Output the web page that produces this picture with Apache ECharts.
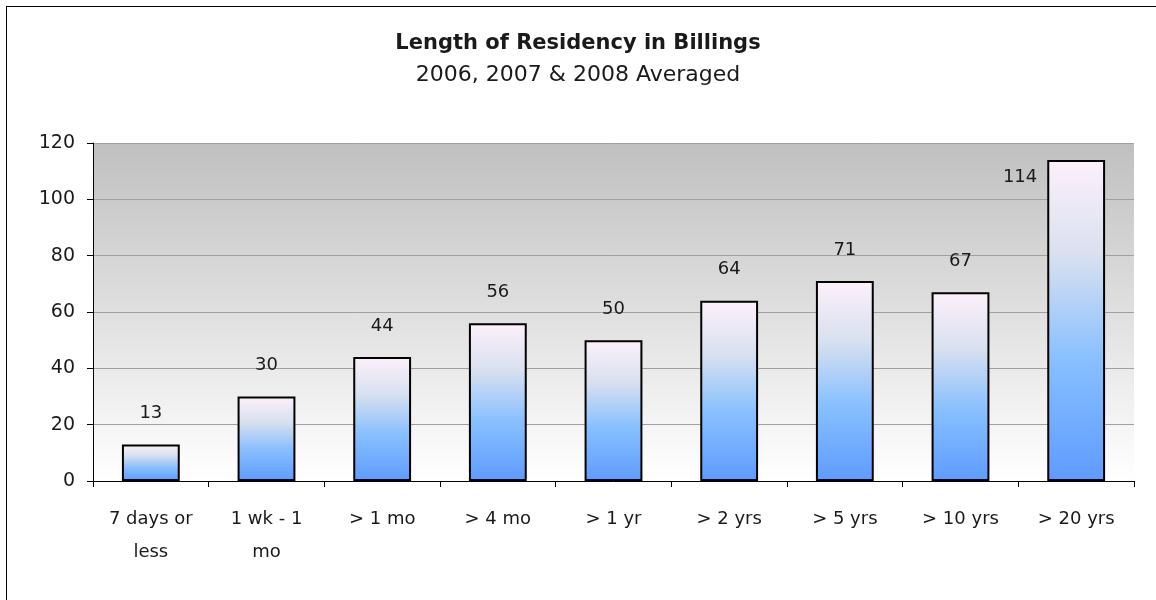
<!DOCTYPE html>
<html>
<head>
<meta charset="utf-8">
<script src="https://cdn.jsdelivr.net/npm/echarts@6/dist/echarts.min.js"></script>
<style>
html,body{margin:0;padding:0;background:#fff;}
#frame{position:absolute;left:6px;top:6px;width:1160px;height:610px;border-left:1px solid #000;border-top:1px solid #000;}
#chart{position:absolute;left:0;top:0;width:1156px;height:600px;}
</style>
</head>
<body>
<div id="frame"></div>
<div id="chart"></div>
<script>
const titleText = "Length of Residency in Billings";
const subtitleText = "2006, 2007 & 2008 Averaged";
const categories = ["7 days or\nless", "1 wk - 1\nmo", "> 1 mo", "> 4 mo", "> 1 yr", "> 2 yrs", "> 5 yrs", "> 10 yrs", "> 20 yrs"];
const values = [13, 30, 44, 56, 50, 64, 71, 67, 114];
const yTicks = [0, 20, 40, 60, 80, 100, 120];

const FONT = "DejaVu Sans";
const chart = echarts.init(document.getElementById('chart'));
const barColor = {
  type: 'linear', x: 0, y: 0, x2: 0, y2: 1,
  colorStops: [
    {offset: 0, color: '#fdf0fa'},
    {offset: 0.3, color: '#d8e0f0'},
    {offset: 0.62, color: '#88c0ff'},
    {offset: 1, color: '#5e9bff'}
  ]
};
const seriesData = values.map((v, i) => {
  const d = {value: v};
  if (i === values.length - 1) {
    d.label = {position: [-10, 17], align: 'right', verticalAlign: 'middle'};
  }
  return d;
});
chart.setOption({
  animation: false,
  backgroundColor: 'transparent',
  title: [{
    text: titleText,
    left: 'center', top: 28,
    textStyle: {fontFamily: FONT, fontSize: 21, fontWeight: 'bold', color: '#1a1a1a'}
  }, {
    text: subtitleText,
    left: 'center', top: 59,
    textStyle: {fontFamily: FONT, fontSize: 22, fontWeight: 'normal', color: '#1a1a1a'}
  }],
  grid: {
    left: 93, right: 22, top: 143, bottom: 119,
    show: true, borderWidth: 0,
    backgroundColor: {
      type: 'linear', x: 0, y: 0, x2: 0, y2: 1,
      colorStops: [{offset: 0, color: '#c0c0c0'}, {offset: 1, color: '#ffffff'}]
    }
  },
  xAxis: {
    type: 'category',
    data: categories,
    axisLine: {lineStyle: {color: '#000', width: 1}},
    axisTick: {show: true, length: 6, lineStyle: {color: '#000'}},
    axisLabel: {fontFamily: FONT, fontSize: 18, color: '#1a1a1a', margin: 22, lineHeight: 33, interval: 0}
  },
  yAxis: {
    type: 'value',
    min: 0, max: 120, interval: 20,
    axisLine: {show: true, lineStyle: {color: '#000', width: 1}},
    axisTick: {show: true, length: 6, lineStyle: {color: '#000'}},
    axisLabel: {fontFamily: FONT, fontSize: 19, color: '#1a1a1a', margin: 18,
      formatter: v => yTicks.includes(v) ? String(v) : ''},
    splitLine: {show: true, lineStyle: {color: '#a0a0a0', width: 1}}
  },
  series: [{
    type: 'bar',
    data: seriesData,
    barCategoryGap: '50%',
    itemStyle: {color: barColor, borderColor: '#000', borderWidth: 2},
    label: {show: true, position: 'top', distance: 22, fontFamily: FONT, fontSize: 18, color: '#1a1a1a'}
  }]
});
</script>
</body>
</html>
